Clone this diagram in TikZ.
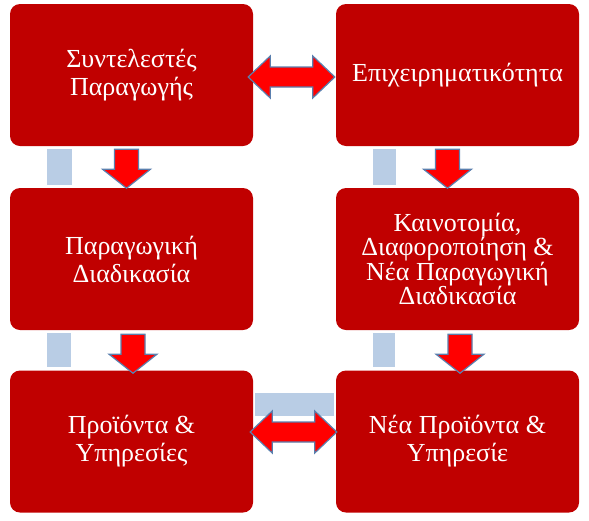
\documentclass[tikz,border=0pt]{standalone}
\usepackage{fontspec}
\setmainfont{Liberation Serif}
\usetikzlibrary{calc}
\definecolor{boxred}{HTML}{C00000}
\definecolor{arrowred}{HTML}{FF0000}
\definecolor{arrowline}{HTML}{5A7FAE}
\definecolor{barblue}{HTML}{B9CDE5}
\tikzset{
  box/.style={rectangle, rounded corners=10pt, fill=boxred, minimum width=243pt,
    minimum height=142pt, text=white, align=center, font=\fontsize{26}{28}\selectfont},
  blk/.style={fill=arrowred, draw=arrowline, line width=1.2pt, line join=miter},
  bar/.style={fill=barblue},
}
\newcommand{\downblk}[1]{\draw[blk] ($(#1)+(-12,0)$) -- ($(#1)+(12,0)$) -- ($(#1)+(12,20)$) -- ($(#1)+(24,20)$) -- ($(#1)+(0,39)$) -- ($(#1)+(-24,20)$) -- ($(#1)+(-12,20)$) -- cycle;}
\newcommand{\dblblk}[2]{\draw[blk] (#1) -- ($(#1)+(22,-21)$) -- ($(#1)+(22,-10)$) -- ($(#2)+(-22,-10)$) -- ($(#2)+(-22,-21)$) -- (#2) -- ($(#2)+(-22,21)$) -- ($(#2)+(-22,10)$) -- ($(#1)+(22,10)$) -- ($(#1)+(22,21)$) -- cycle;}
\begin{document}
\begin{tikzpicture}[x=1pt, y=-1pt]
\useasboundingbox (0,0) rectangle (589,520);
% light blue bars
\fill[bar] (47,149) rectangle (72,185);
\fill[bar] (373,149) rectangle (396,185);
\fill[bar] (47,333) rectangle (71,367);
\fill[bar] (373,333) rectangle (395,367);
\fill[bar] (255,393) rectangle (334,416);
% boxes
\node[box] (syn) at (131.5,75) {Συντελεστές\\Παραγωγής};
\node[box] (epi) at (457.5,75) {Επιχειρηματικότητα};
\node[box] (par) at (131.5,259) {Παραγωγική\\Διαδικασία};
\node[box, font=\fontsize{26}{24.5}\selectfont] (kai) at (457.5,259) {Καινοτομία,\\Διαφοροποίηση \&\\Νέα Παραγωγική\\Διαδικασία};
\node[box] (pro) at (131.5,441.5) {Προϊόντα \&\\Υπηρεσίες};
\node[box] (nea) at (457.5,441.5) {Νέα Προϊόντα \&\\Υπηρεσίε};
% arrows
\coordinate (d1) at ($(syn.south)+(-5,3)$);
\coordinate (d2) at ($(epi.south)+(-10,3)$);
\coordinate (d3) at ($(par.south)+(1.5,4)$);
\coordinate (d4) at ($(kai.south)+(2.5,4)$);
\downblk{d1}
\downblk{d2}
\downblk{d3}
\downblk{d4}
\coordinate (h1) at ($(syn.east)+(-5,2)$);
\coordinate (h2) at ($(epi.west)+(-1,2)$);
\coordinate (h3) at ($(pro.east)+(-3,-9.5)$);
\coordinate (h4) at ($(nea.west)+(1,-9.5)$);
\dblblk{h1}{h2}
\dblblk{h3}{h4}
\end{tikzpicture}
\end{document}
